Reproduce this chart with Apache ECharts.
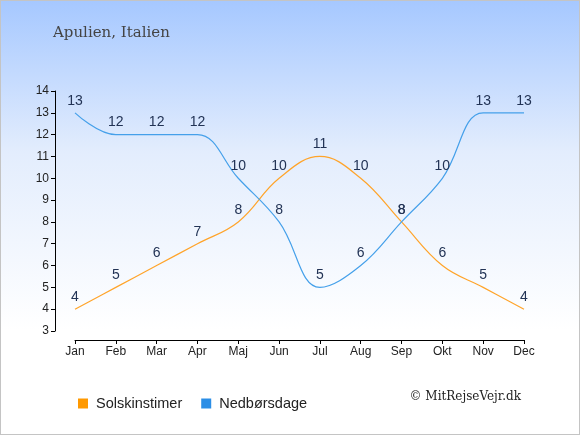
<!DOCTYPE html>
<html>
<head>
<meta charset="utf-8">
<script src="https://cdn.jsdelivr.net/npm/echarts@6/dist/echarts.min.js"></script>
<style>
    html, body { margin: 0; padding: 0; }
    #chart {
        width: 580px;
        height: 435px;
        box-sizing: border-box;
        border: 1px solid #c4c4c4;
        background: linear-gradient(to bottom, #a6c8ff 0%, #e3edfd 35%, #ffffff 76%, #ffffff 100%);
    }
</style>
</head>
<body>
<div id="chart"></div>
<script>
const months = ['Jan', 'Feb', 'Mar', 'Apr', 'Maj', 'Jun', 'Jul', 'Aug', 'Sep', 'Okt', 'Nov', 'Dec'];
const solskinstimer = [4, 5, 6, 7, 8, 10, 11, 10, 8, 6, 5, 4];
const nedboersdage = [13, 12, 12, 12, 10, 8, 5, 6, 8, 10, 13, 13];
const yMin = 3;
const yMax = 14;

let chart = echarts.init(document.getElementById('chart'));

// labels sit above each point, same style for both lines
let labelStyle = {
    show: true,
    position: 'top',
    distance: 5,
    color: '#223355',
    fontSize: 14,
    fontFamily: 'Liberation Sans'
};

let option = {
    animation: false,
    textStyle: {
        fontFamily: 'Liberation Sans'
    },
    title: {
        text: 'Apulien, Italien',
        left: 47,
        top: 20,
        textStyle: {
            fontFamily: 'DejaVu Serif',
            fontSize: 15,
            fontWeight: 'normal',
            color: '#444444'
        }
    },
    grid: {
        left: 74,
        right: 55,
        top: 90,
        bottom: 103,
        show: false
    },
    xAxis: {
        type: 'category',
        data: months,
        boundaryGap: false,
        offset: 9,
        axisLine: {
            lineStyle: { color: '#000', width: 1 }
        },
        axisTick: {
            alignWithLabel: true,
            length: 4,
            lineStyle: { color: '#000' }
        },
        axisLabel: {
            color: '#222',
            fontSize: 12,
            margin: 6
        },
        splitLine: { show: false }
    },
    yAxis: {
        type: 'value',
        min: yMin,
        max: yMax,
        interval: 1,
        offset: 20,
        axisLine: {
            show: true,
            lineStyle: { color: '#000', width: 1 }
        },
        axisTick: {
            show: true,
            length: 4,
            lineStyle: { color: '#000' }
        },
        axisLabel: {
            color: '#222',
            fontSize: 12,
            margin: 6
        },
        splitLine: { show: false }
    },
    legend: {
        left: 72,
        top: 390,
        itemWidth: 10,
        itemHeight: 10,
        itemGap: 19,
        icon: 'rect',
        textStyle: {
            color: '#222',
            fontSize: 14.5,
            fontFamily: 'Liberation Sans',
            padding: [0, 0, 0, 3]
        },
        data: [
            { name: 'Solskinstimer', itemStyle: { color: '#ff9900' } },
            { name: 'Nedbørsdage', itemStyle: { color: '#2b8ee6' } }
        ]
    },
    graphic: [{
        type: 'text',
        right: 58,
        top: 390,
        style: {
            text: '© MitRejseVejr.dk',
            fontFamily: 'DejaVu Serif',
            fontSize: 12,
            fill: '#222'
        }
    }],
    series: [{
        name: 'Solskinstimer',
        type: 'line',
        data: solskinstimer,
        smooth: 0.4,
        symbol: 'circle',
        symbolSize: 0,
        lineStyle: { color: '#ffa42a', width: 1.2 },
        itemStyle: { color: '#ff9900' },
        label: labelStyle
    }, {
        name: 'Nedbørsdage',
        type: 'line',
        data: nedboersdage,
        smooth: 0.4,
        symbol: 'circle',
        symbolSize: 0,
        lineStyle: { color: '#45a0ea', width: 1.2 },
        itemStyle: { color: '#2b8ee6' },
        label: labelStyle
    }]
};
chart.setOption(option);
</script>
</body>
</html>
